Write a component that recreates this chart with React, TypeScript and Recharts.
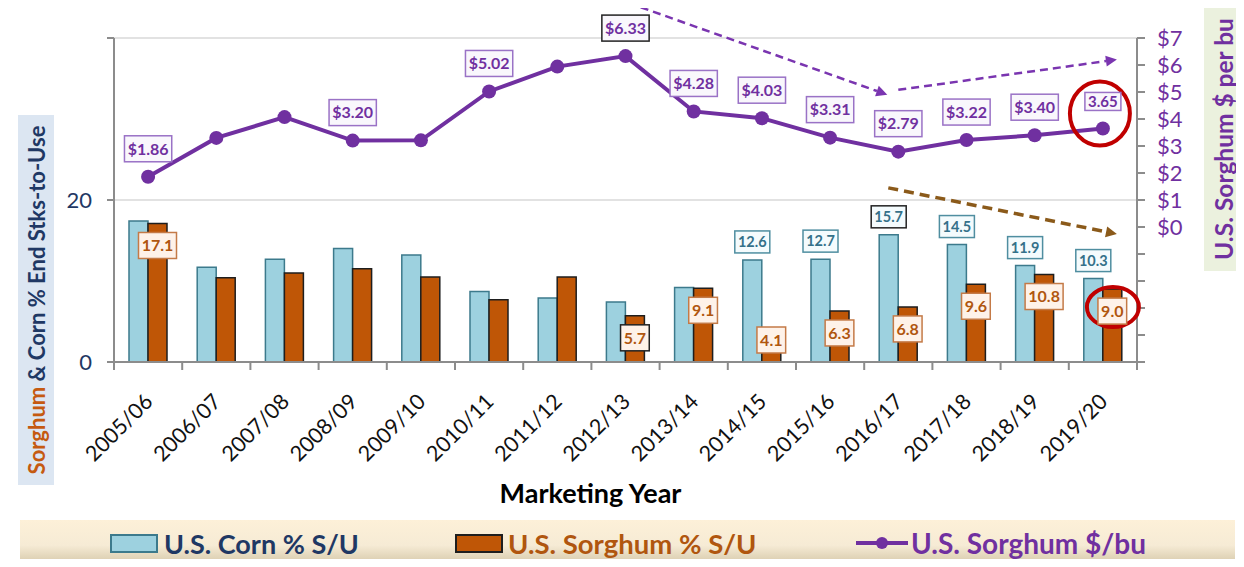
import React from 'react';
import {
  ComposedChart, Bar, Line, XAxis, YAxis, CartesianGrid, LabelList,
  ReferenceLine, ReferenceDot, Label,
} from 'recharts';

const years = ['2005/06', '2006/07', '2007/08', '2008/09', '2009/10', '2010/11', '2011/12', '2012/13',
  '2013/14', '2014/15', '2015/16', '2016/17', '2017/18', '2018/19', '2019/20'];
const cornSU = [17.4, 11.7, 12.7, 14.0, 13.2, 8.7, 7.9, 7.4, 9.2, 12.6, 12.7, 15.7, 14.5, 11.9, 10.3];
const sorghumSU = [17.1, 10.4, 11.0, 11.5, 10.5, 7.7, 10.5, 5.7, 9.1, 4.1, 6.3, 6.8, 9.6, 10.8, 9.0];
const sorghumPrice = [1.86, 3.3, 4.07, 3.2, 3.21, 5.02, 5.94, 6.33, 4.28, 4.03, 3.31, 2.79, 3.22, 3.4, 3.65];
const cornLabels = ['', '', '', '', '', '', '', '', '', '12.6', '12.7', '15.7', '14.5', '11.9', '10.3'];
const sorghumLabels = ['17.1', '', '', '', '', '', '', '5.7', '9.1', '4.1', '6.3', '6.8', '9.6', '10.8', '9.0'];
const priceLabels = ['$1.86', '', '', '$3.20', '', '$5.02', '', '$6.33', '$4.28', '$4.03', '$3.31', '$2.79', '$3.22', '$3.40', '3.65'];
const suTicks = [0, 20, 40];
const priceTicks = [-5, -4, -3, -2, -1, 0, 1, 2, 3, 4, 5, 6, 7];

// labels Excel left "selected" (black border)
const selected = { corn: '2016/17', sorghum: '2012/13', price: '2012/13' };

const data = years.map((year, i) => ({
  year,
  corn: cornSU[i],
  sorghum: sorghumSU[i],
  price: sorghumPrice[i],
  cornLabel: cornLabels[i],
  sorghumLabel: sorghumLabels[i],
  priceLabel: priceLabels[i],
}));

const NAVY = '#1f3864';
const PURPLE = '#7030a0';
const BROWN = '#b0560f';
const AXIS = '#8c8c8c';

const textWidth = (s: string, size: number) =>
  [...s].reduce((w, c) => w + (c === '.' ? 0.26 : 0.58) * size, 0);

const LabelBox = ({ cx, cy, text, size, h, fill, stroke, color }: any) => {
  const w = textWidth(text, size) + 6;
  return (
    <g>
      <rect x={cx - w / 2} y={cy - h / 2} width={w} height={h} fill={fill} stroke={stroke} strokeWidth={1.5} />
      <text x={cx} y={cy} dy="0.36em" textAnchor="middle" fontSize={size} fontWeight={700} fill={color}>
        {text}
      </text>
    </g>
  );
};

const CornLabel = (p: any) => {
  if (!p.value) return null;
  const year = years[p.index];
  return (
    <LabelBox cx={p.x + p.width / 2} cy={p.y - 18} text={p.value} size={14.5} h={22}
      fill="#f4fbfd" stroke={year === selected.corn ? '#222' : '#4f8ea0'} color="#34718a" />
  );
};

const SorghumLabel = (p: any) => {
  if (!p.value) return null;
  const year = years[p.index];
  const cy = p.height < 45 ? p.y + p.height - 22 : p.y + 22;
  return (
    <LabelBox cx={p.x + p.width / 2} cy={cy} text={p.value} size={16} h={26}
      fill="#fef2e9" stroke={year === selected.sorghum ? '#222' : '#c47a47'} color={BROWN} />
  );
};

const PriceLabel = (p: any) => {
  if (!p.value) return null;
  const year = years[p.index];
  const last = p.index === years.length - 1;
  return (
    <LabelBox cx={p.x} cy={p.y - (last ? 27 : 28)} text={p.value} size={last ? 15 : 16} h={last ? 18 : 26}
      fill="#f9f7fc" stroke={year === selected.price ? '#222' : '#9a72c6'} color={PURPLE} />
  );
};

const YearTick = (props: any) => {
  const { x, y, payload, index } = props;
  const off = payload?.offset ?? 34;
  return (
    <g>
      <line x1={x - off} y1={y} x2={x - off} y2={y + 8} stroke={AXIS} strokeWidth={2} />
      {index === years.length - 1 && (
        <line x1={x + off} y1={y} x2={x + off} y2={y + 8} stroke={AXIS} strokeWidth={2} />
      )}
      <text transform={`translate(${x + 6},${y + 41}) rotate(-45)`} textAnchor="end" fontSize={21.5} fill="#111">
        {payload.value}
      </text>
    </g>
  );
};

const arrow = (color: string, width: number, dash: string, dx1: number, dx2: number) => (p: any) => {
  const x1 = p.x1 + dx1;
  const x2 = p.x2 + dx2;
  const { y1, y2 } = p;
  const a = Math.atan2(y2 - y1, x2 - x1);
  const L = 11;
  const W = 5.5;
  const bx = x2 - L * Math.cos(a);
  const by = y2 - L * Math.sin(a);
  const pts = [
    `${x2},${y2}`,
    `${bx + W * Math.sin(a)},${by - W * Math.cos(a)}`,
    `${bx - W * Math.sin(a)},${by + W * Math.cos(a)}`,
  ].join(' ');
  return (
    <g>
      <line x1={x1} y1={y1} x2={bx} y2={by} stroke={color} strokeWidth={width} strokeDasharray={dash} />
      <polygon points={pts} fill={color} />
    </g>
  );
};

const ring = (dx: number, dy: number, rx: number, ry: number) => (p: any) => (
  <ellipse cx={p.cx + dx} cy={p.cy + dy} rx={rx} ry={ry} fill="none" stroke="#c00000" strokeWidth={4} />
);

const Swatch = ({ fill, stroke }: any) => (
  <div style={{ width: 44, height: 15, background: fill, border: `2px solid ${stroke}` }} />
);

const App = () => (
  <div style={{ margin: -8 }}>
    <div style={{ position: 'relative', width: 1244, height: 567, overflow: 'hidden', fontFamily: 'Lato', background: '#fff' }}>
      <div style={{ position: 'absolute', left: 6, top: 4, width: 1237, height: 640, border: '2px solid #a6a6a6', boxSizing: 'border-box' }} />

      {/* left axis title */}
      <div style={{ position: 'absolute', left: 18, top: 115, width: 36, height: 370, background: '#dce6f2' }} />
      <div style={{
        position: 'absolute', left: 36 - 185, top: 300 - 18, width: 370, height: 36, transform: 'rotate(-90deg)',
        display: 'flex', alignItems: 'center', justifyContent: 'center', fontSize: 22, fontWeight: 700, whiteSpace: 'nowrap',
      }}>
        <span style={{ color: '#c55a11' }}>Sorghum</span>
        <span style={{ color: NAVY }}>&nbsp;&amp; Corn % End Stks-to-Use</span>
      </div>

      {/* right axis title */}
      <div style={{ position: 'absolute', left: 1204, top: 8, width: 38, height: 263, background: '#ebf1de' }} />
      <div style={{
        position: 'absolute', left: 1223 - 131, top: 139 - 19, width: 262, height: 38, transform: 'rotate(-90deg)',
        display: 'flex', alignItems: 'center', justifyContent: 'center', fontSize: 24.5, fontWeight: 700, color: PURPLE, whiteSpace: 'nowrap',
      }}>
        U.S. Sorghum $ per bu
      </div>

      <div style={{ position: 'absolute', left: 0, top: 0 }}>
        <ComposedChart width={1244} height={567} data={data} margin={{ top: 38, right: 47, bottom: 55, left: 54 }}
          barSize={19} barGap={0} style={{ overflow: 'visible' }}>
          <CartesianGrid yAxisId="left" vertical={false} stroke="#d9d9d9" strokeWidth={1.5} />
          <XAxis dataKey="year" interval={0} height={150} axisLine={{ stroke: AXIS, strokeWidth: 2 }}
            tickLine={false} tickSize={0} tickMargin={0} tick={<YearTick />}>
            <Label content={(p: any) => (
              <text x={p.viewBox.x + p.viewBox.width / 2 - 35} y={p.viewBox.y + 141} textAnchor="middle"
                fontSize={27} fontWeight={700} fill="#000">Marketing Year</text>
            )} />
          </XAxis>
          <YAxis yAxisId="left" width={60} domain={[0, 40]} ticks={suTicks} interval={0}
            tickFormatter={(v) => (v === 40 ? '' : String(v))}
            axisLine={{ stroke: AXIS, strokeWidth: 2 }} tickLine={{ stroke: AXIS, strokeWidth: 2 }} tickSize={7} tickMargin={15}
            tick={{ fill: NAVY, fontSize: 22 }} />
          <YAxis yAxisId="right" orientation="right" width={60} domain={[-5, 7]} ticks={priceTicks} interval={0}
            tickFormatter={(v) => (v < 0 ? '' : `$${v}`)} axisLine={{ stroke: AXIS, strokeWidth: 2 }}
            tickLine={{ stroke: AXIS, strokeWidth: 2 }} tickSize={8} tickMargin={12} tick={{ fill: PURPLE, fontSize: 22 }} />

          <Bar yAxisId="left" dataKey="corn" fill="#9dd1df" stroke="#3c7a8c" strokeWidth={1.5} isAnimationActive={false}>
            <LabelList dataKey="cornLabel" content={<CornLabel />} />
          </Bar>
          <Bar yAxisId="left" dataKey="sorghum" fill="#bf5606" stroke="#1e1e1e" strokeWidth={1.5} isAnimationActive={false}>
            <LabelList dataKey="sorghumLabel" content={<SorghumLabel />} />
          </Bar>
          <Line yAxisId="right" type="linear" dataKey="price" stroke={PURPLE} strokeWidth={4}
            dot={{ r: 7, fill: PURPLE, stroke: PURPLE, strokeWidth: 0 }} activeDot={false} isAnimationActive={false}>
            <LabelList dataKey="priceLabel" content={<PriceLabel />} />
          </Line>

          <ReferenceLine yAxisId="right" ifOverflow="visible"
            segment={[{ x: '2012/13', y: 8.3 }, { x: '2016/17', y: 4.9 }]}
            shape={arrow('#7a35b0', 2.5, '8 5', 3, -11)} />
          <ReferenceLine yAxisId="right" ifOverflow="visible"
            segment={[{ x: '2016/17', y: 5.08 }, { x: '2019/20', y: 6.2 }]}
            shape={arrow('#7a35b0', 2.5, '8 5', 0, 14)} />
          <ReferenceLine yAxisId="left" ifOverflow="visible"
            segment={[{ x: '2016/17', y: 21.5 }, { x: '2019/20', y: 15.8 }]}
            shape={arrow('#8b5a1a', 3.5, '10 6', -10, 14)} />
          <ReferenceDot yAxisId="right" x="2019/20" y={3.65} ifOverflow="visible" shape={ring(-3, -15, 30, 32)} />
          <ReferenceDot yAxisId="left" x="2019/20" y={9.0} ifOverflow="visible" shape={ring(10, 18, 26, 20)} />
        </ComposedChart>
      </div>

      {/* legend */}
      <div style={{
        position: 'absolute', left: 20, top: 520, width: 1215, height: 46,
        background: 'linear-gradient(to bottom, #fdf0d8 0%, #f6ebd5 55%, #d2c5a5 100%)',
      }} />
      <div style={{ position: 'absolute', left: 110, top: 526, height: 34, display: 'flex', alignItems: 'center', gap: 6 }}>
        <Swatch fill="#9dd1df" stroke="#3c7a8c" />
        <span style={{ color: NAVY, fontSize: 27, fontWeight: 700 }}>U.S. Corn % S/U</span>
      </div>
      <div style={{ position: 'absolute', left: 455, top: 526, height: 34, display: 'flex', alignItems: 'center', gap: 5 }}>
        <Swatch fill="#bf5606" stroke="#1e1e1e" />
        <span style={{ color: BROWN, fontSize: 27.5, fontWeight: 700 }}>U.S. Sorghum % S/U</span>
      </div>
      <div style={{ position: 'absolute', left: 856, top: 526, height: 34, display: 'flex', alignItems: 'center', gap: 3 }}>
        <svg width={52} height={20}>
          <line x1={0} y1={10} x2={52} y2={10} stroke={PURPLE} strokeWidth={4} />
          <circle cx={26} cy={10} r={6} fill={PURPLE} />
        </svg>
        <span style={{ color: PURPLE, fontSize: 28, fontWeight: 700 }}>U.S. Sorghum $/bu</span>
      </div>
    </div>
  </div>
);

export default App;
